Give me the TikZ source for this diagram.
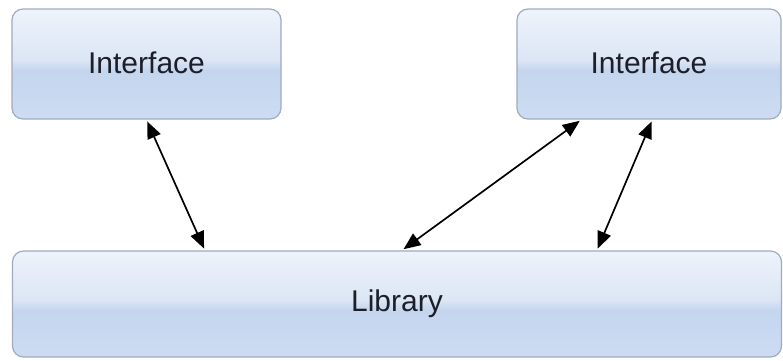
\documentclass[tikz,border=0pt]{standalone}
\usepackage{fontspec}
\setmainfont{Liberation Sans}
\usetikzlibrary{arrows.meta,calc}
\definecolor{gtop}{HTML}{EEF3FB}
\definecolor{gmidA}{HTML}{DCE6F5}
\definecolor{gmidB}{HTML}{C4D5EE}
\definecolor{gbot}{HTML}{CDDCF2}
\definecolor{boxline}{HTML}{9EABC0}
\definecolor{txt}{HTML}{1C1F2A}
\pgfdeclareverticalshading{gloss}{100bp}{color(0bp)=(gbot); color(25bp)=(gbot); color(47bp)=(gmidB); color(52bp)=(gmidA); color(75bp)=(gtop); color(100bp)=(gtop)}
\tikzset{
  gbox/.style={draw=boxline, line width=1.2pt, rounded corners=11pt, shading=gloss,
    text=txt, font=\fontsize{30}{36}\selectfont, inner sep=0pt},
  link/.style={line width=1.7pt, {Triangle[length=17pt,width=14pt]}-{Triangle[length=17pt,width=14pt]}, shorten <=2pt, shorten >=2pt}
}
\begin{document}
\begin{tikzpicture}[x=1pt,y=-1pt]
\useasboundingbox (0,0) rectangle (783,360);
\node[gbox, minimum width=269pt, minimum height=110pt] (i1) at (146.5,64) {\raisebox{2pt}{Interface}};
\node[gbox, minimum width=264pt, minimum height=110pt] (i2) at (649,64) {\raisebox{2pt}{Interface}};
\node[gbox, minimum width=769pt, minimum height=106pt] (lib) at (397,304) {Library};
\coordinate (a1) at ($(i1.south west)+(135,0)$);
\coordinate (b1) at ($(lib.north west)+(193,0)$);
\coordinate (a2) at ($(i2.south west)+(65,0)$);
\coordinate (b2) at ($(lib.north west)+(390,0)$);
\coordinate (a3) at ($(i2.south west)+(136,0)$);
\coordinate (b3) at ($(lib.north west)+(585,0)$);
\draw[link] (a1) -- (b1);
\draw[link] (a2) -- (b2);
\draw[link] (a3) -- (b3);
\end{tikzpicture}
\end{document}
